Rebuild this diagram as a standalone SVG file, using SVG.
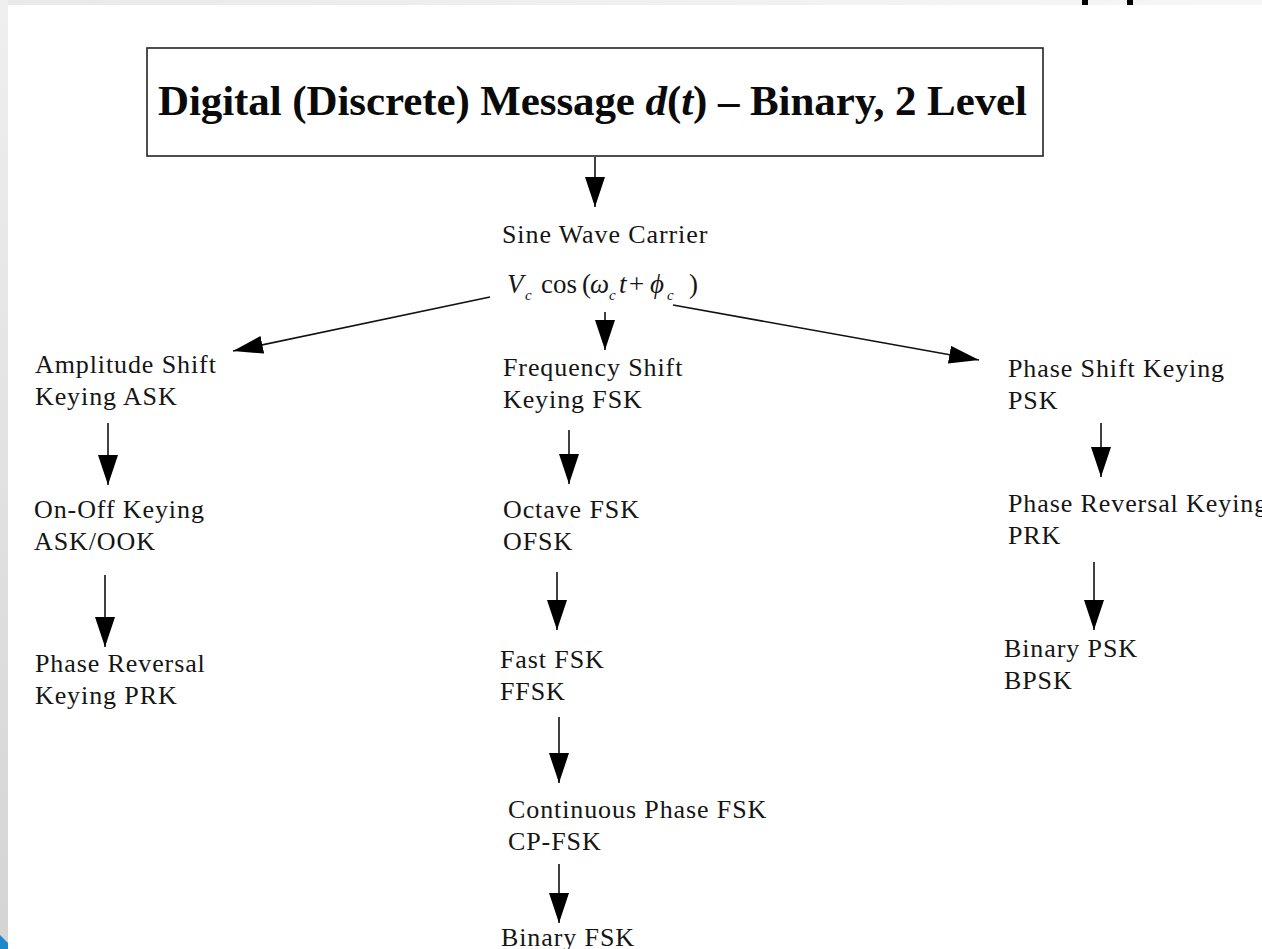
<svg xmlns="http://www.w3.org/2000/svg" width="1262" height="949" viewBox="0 0 1262 949">
  <defs>
    <linearGradient id="sideBand" x1="0" y1="0" x2="0" y2="1">
      <stop offset="0" stop-color="#efefef"/>
      <stop offset="1" stop-color="#d4d4d4"/>
    </linearGradient>
    <linearGradient id="topBand" x1="0" y1="0" x2="1" y2="0">
      <stop offset="0" stop-color="#e9e9e9"/>
      <stop offset="1" stop-color="#f6f6f6"/>
    </linearGradient>
    <marker id="head" viewBox="0 0 30 20" refX="30" refY="10" markerWidth="30" markerHeight="20" markerUnits="userSpaceOnUse" orient="auto">
      <path d="M0,0 L30,10 L0,20 z" fill="#000"/>
    </marker>
    <marker id="headSmall" viewBox="0 0 30 18" refX="30" refY="9" markerWidth="30" markerHeight="18" markerUnits="userSpaceOnUse" orient="auto">
      <path d="M0,0 L30,9 L0,18 z" fill="#000"/>
    </marker>
  </defs>
  <style>
    .lbl { font-family: "Liberation Serif", "Times New Roman", serif; font-size: 26px; fill: #151515; letter-spacing: 0.9px; }
    .math { font-family: "Liberation Serif", "Times New Roman", serif; font-size: 27px; fill: #151515; }
    .it { font-style: italic; }
    .sub { font-family: "Liberation Serif", "Times New Roman", serif; font-size: 15px; font-style: italic; fill: #151515; }
    .title { font-family: "Liberation Serif", "Times New Roman", serif; font-size: 43px; font-weight: bold; fill: #0a0a0a; }
    .edge { stroke: #111; stroke-width: 1.6; fill: none; marker-end: url(#head); }
    .edgeDiag { stroke: #111; stroke-width: 1.6; fill: none; marker-end: url(#headSmall); }
  </style>

  <!-- page background and frame bands -->
  <rect x="0" y="0" width="1262" height="949" fill="#ffffff"/>
  <rect x="0" y="0" width="1262" height="5" fill="url(#topBand)"/>
  <rect x="0" y="0" width="8" height="949" fill="url(#sideBand)"/>
  <rect x="1082" y="0" width="6" height="5" fill="#000"/>
  <rect x="1127" y="0" width="6" height="5" fill="#000"/>
  <polygon points="0,935 8,943 8,949 0,949" fill="#1a88c9"/>

  <!-- title node -->
  <g id="message">
    <rect x="147" y="48" width="896" height="108" fill="#fff" stroke="#222" stroke-width="1.6"/>
    <text class="title" x="158" y="115" textLength="869" lengthAdjust="spacing">Digital (Discrete) Message <tspan class="it">d</tspan>(<tspan class="it">t</tspan>) – Binary, 2 Level</text>
  </g>

  <!-- carrier node: V_c cos(w_c t + phi_c) -->
  <g id="carrier">
    <text class="lbl" x="502" y="243">Sine Wave Carrier</text>
    <text class="math" y="293"><tspan class="it" x="507">V</tspan><tspan x="541">cos</tspan><tspan x="582">(</tspan><tspan class="it" x="590">ω</tspan><tspan class="it" x="619">t</tspan><tspan x="629">+</tspan><tspan class="it" x="650">ϕ</tspan><tspan x="689">)</tspan></text>
    <text class="sub" x="525" y="300">c</text>
    <text class="sub" x="609" y="300">c</text>
    <text class="sub" x="667" y="300">c</text>
  </g>

  <!-- amplitude branch -->
  <g id="ask">
    <text class="lbl" x="35" y="373">Amplitude Shift</text>
    <text class="lbl" x="35" y="405">Keying ASK</text>
  </g>
  <g id="ook">
    <text class="lbl" x="34" y="518">On-Off Keying</text>
    <text class="lbl" x="34" y="550">ASK/OOK</text>
  </g>
  <g id="prk-left">
    <text class="lbl" x="35" y="672">Phase Reversal</text>
    <text class="lbl" x="35" y="704">Keying PRK</text>
  </g>

  <!-- frequency branch -->
  <g id="fsk">
    <text class="lbl" x="503" y="376">Frequency Shift</text>
    <text class="lbl" x="503" y="408">Keying FSK</text>
  </g>
  <g id="ofsk">
    <text class="lbl" x="503" y="518">Octave FSK</text>
    <text class="lbl" x="503" y="550">OFSK</text>
  </g>
  <g id="ffsk">
    <text class="lbl" x="500" y="668">Fast FSK</text>
    <text class="lbl" x="500" y="700">FFSK</text>
  </g>
  <g id="cpfsk">
    <text class="lbl" x="508" y="818">Continuous Phase FSK</text>
    <text class="lbl" x="508" y="850">CP-FSK</text>
  </g>
  <g id="bfsk">
    <text class="lbl" x="501" y="946">Binary FSK</text>
  </g>

  <!-- phase branch -->
  <g id="psk">
    <text class="lbl" x="1008" y="377">Phase Shift Keying</text>
    <text class="lbl" x="1008" y="409">PSK</text>
  </g>
  <g id="prk-right">
    <text class="lbl" x="1008" y="512">Phase Reversal Keying</text>
    <text class="lbl" x="1008" y="544">PRK</text>
  </g>
  <g id="bpsk">
    <text class="lbl" x="1004" y="657">Binary PSK</text>
    <text class="lbl" x="1004" y="689">BPSK</text>
  </g>

  <!-- connectors -->
  <g id="connectors">
    <line class="edge" x1="595" y1="157" x2="595" y2="207"/>
    <line class="edge" x1="605" y1="312" x2="605" y2="350"/>
    <line class="edgeDiag" x1="490" y1="297" x2="233" y2="351"/>
    <line class="edgeDiag" x1="673" y1="305" x2="979" y2="360"/>
    <line class="edge" x1="108" y1="423" x2="108" y2="485"/>
    <line class="edge" x1="105" y1="575" x2="105" y2="647"/>
    <line class="edge" x1="569" y1="430" x2="569" y2="484"/>
    <line class="edge" x1="557" y1="572" x2="557" y2="630"/>
    <line class="edge" x1="559" y1="717" x2="559" y2="783"/>
    <line class="edge" x1="559" y1="864" x2="559" y2="923"/>
    <line class="edge" x1="1101" y1="423" x2="1101" y2="477"/>
    <line class="edge" x1="1094" y1="562" x2="1094" y2="630"/>
  </g>
</svg>
